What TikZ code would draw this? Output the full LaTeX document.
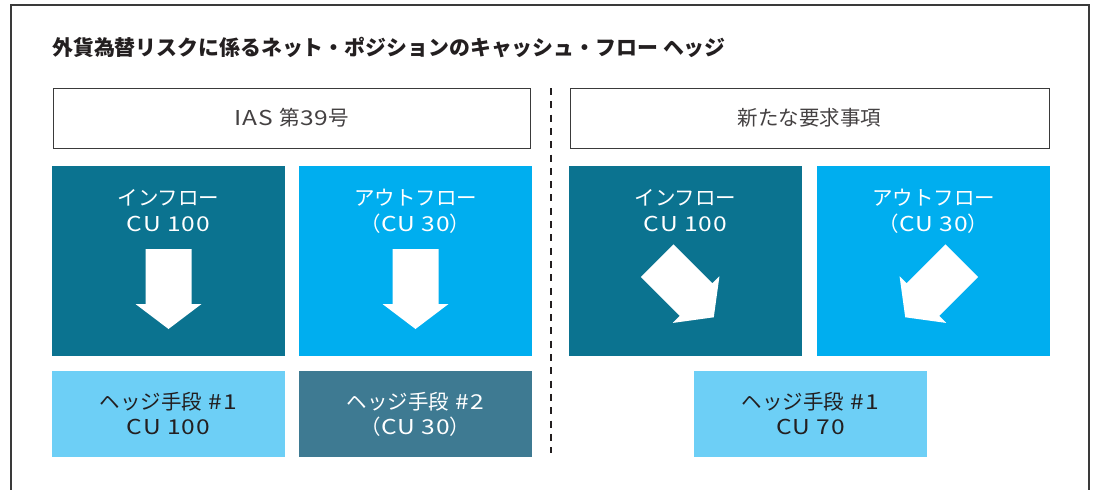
\documentclass[tikz,border=0pt]{standalone}
\usepackage{fontspec}
\setmainfont{Noto Sans CJK JP}
\newfontfamily\latfont{Noto Sans CJK JP}[FakeStretch=1.2, LetterSpace=5]
\newcommand{\lat}[1]{{\latfont #1}}
\newcommand{\gap}{\hspace{0.32em}}
\definecolor{frame}{HTML}{3A3A3A}
\definecolor{inkdark}{HTML}{231F20}
\definecolor{teal}{HTML}{0B7390}
\definecolor{brightblue}{HTML}{00AEEF}
\definecolor{lightblue}{HTML}{6DCFF6}
\definecolor{hedgedark}{HTML}{3E7A92}
\tikzset{
  x=1pt, y=-1pt,
  headbox/.style={draw=frame, line width=1pt, fill=white, minimum width=477pt, minimum height=60pt, inner sep=0pt,
    text=inkdark!85, font=\fontsize{20.5}{26}\selectfont},
  bigbox/.style={minimum width=233pt, minimum height=190pt, inner sep=0pt, draw=none},
  hedgebox/.style={minimum width=233pt, minimum height=86pt, inner sep=0pt, draw=none, align=center,
    font=\fontsize{20.5}{25}\selectfont},
  boxtext/.style={align=center, text=white, inner sep=0pt, font=\fontsize{20.5}{26}\selectfont},
  arrowshape/.style={fill=white, draw=none},
}
\begin{document}
\begin{tikzpicture}
\useasboundingbox (0,0) rectangle (1096,490);
\fill[white] (0,0) rectangle (1096,490);
% outer frame
\draw[frame, line width=2pt] (11,492) -- (11,5) -- (1089,5) -- (1089,492);
% title
\node[anchor=west, inner sep=0pt, text=inkdark, font=\fontsize{20.9}{26}\selectfont\bfseries] (title) at (52,48)
  {外貨為替リスクに係るネット・ポジションのキャッシュ・フロー ヘッジ};
% header boxes
\node[headbox] (hA) at (291.5,118) {\lat{IAS}\gap 第\lat{39}号};
\node[headbox, minimum width=479pt] (hB) at (809.5,118) {新たな要求事項};
% divider
\coordinate (dtop) at (551,88);
\coordinate (dbot) at (551,453);
\draw[inkdark, line width=2pt, dash pattern=on 7pt off 6.3pt] (dtop) -- (dbot);
% big boxes
\node[bigbox, fill=teal] (b1) at (168.5,261) {};
\node[bigbox, fill=brightblue] (b2) at (415.5,261) {};
\node[bigbox, fill=teal] (b3) at (685.5,261) {};
\node[bigbox, fill=brightblue] (b4) at (933.5,261) {};
\node[boxtext] (t1) at (168.5,211) {インフロー\\\lat{CU 100}};
\node[boxtext] (t2) at (415.5,211) {アウトフロー\\（\lat{CU 30}）};
\node[boxtext] (t3) at (685.5,211) {インフロー\\\lat{CU 100}};
\node[boxtext] (t4) at (933.5,211) {アウトフロー\\（\lat{CU 30}）};
% arrows
\newcommand{\bigarrow}{(-23,-40) -- (23,-40) -- (23,15) -- (33,15) -- (0,40) -- (-33,15) -- (-23,15) -- cycle}
\fill[arrowshape, shift={(168.5,289)}] \bigarrow;
\fill[arrowshape, shift={(415.5,289)}] \bigarrow;
\fill[arrowshape, shift={(685.5,289)}, rotate=45] \bigarrow;
\fill[arrowshape, shift={(933.5,289)}, rotate=-45] \bigarrow;
% hedge boxes
\node[hedgebox, fill=lightblue, text=inkdark] (h1) at (168.5,414) {ヘッジ手段\gap\lat{\#1}\\\lat{CU 100}};
\node[hedgebox, fill=hedgedark, text=white] (h2) at (415.5,414) {ヘッジ手段\gap\lat{\#2}\\（\lat{CU 30}）};
\node[hedgebox, fill=lightblue, text=inkdark] (h3) at (810.5,414) {ヘッジ手段\gap\lat{\#1}\\\lat{CU 70}};
\end{tikzpicture}
\end{document}
